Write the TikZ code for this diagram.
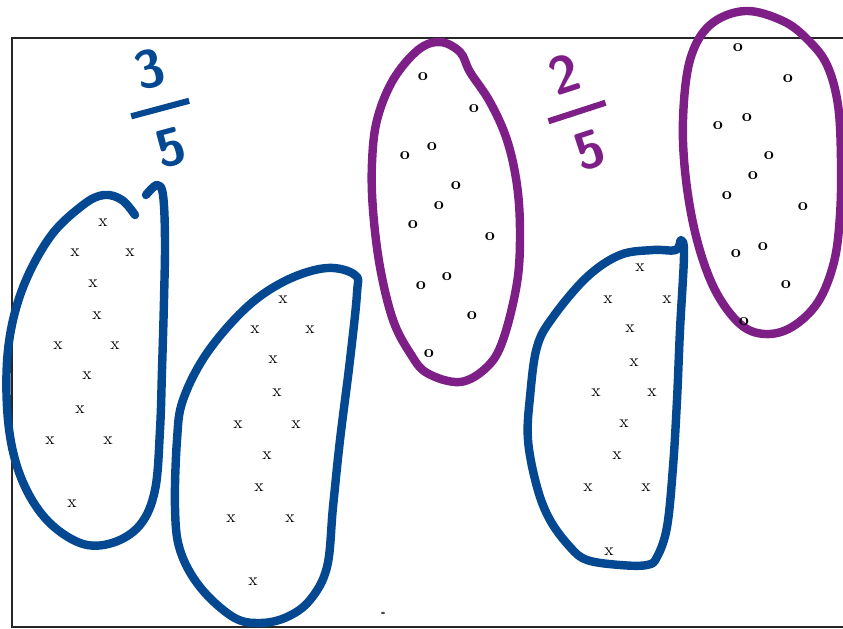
\documentclass[tikz,border=0pt]{standalone}
\usepackage{amsmath}
\usepackage{tikz}
\definecolor{inkblue}{RGB}{4,72,145}
\definecolor{inkpurple}{RGB}{126,31,136}

\begin{document}
\begin{tikzpicture}[x=0.02cm, y=-0.02cm,
  loop/.style={line width=4.8pt, line cap=round, line join=round},
  xmark/.style={font=\normalsize, inner sep=0pt},
  omark/.style={font=\normalsize\bfseries, inner sep=0pt},
  frac/.style={font=\fontsize{30}{30}\selectfont\sffamily\bfseries, inner sep=0pt}]
  \useasboundingbox (0,0) rectangle (843,629);
  \clip (0,0) rectangle (843,629);
  % Frame
  \draw[line width=1.7pt, black!85] (12,38) rectangle (870,627);
  \fill[black!70] (383,613) ellipse (2 and 1.2);
  % Blue loop 1
  \draw[loop, inkblue] plot[smooth, tension=0.6] coordinates {(135,215) (122,200) (104,195) (83,205) (50,237) (22,290) (8,350) (8,420) (20,475) (45,518) (80,543) (112,543) (140,525) (155,490) (160,430) (162,370) (164,300) (165,240) (163,195) (157,185) (146,195)};
  \foreach \p [count=\i] in {(103,223),(75,253),(130,253),(93,284),(97,316),(58,346),(115,346),(87,376),(80,410),(50,441),(108,441),(72,504)}
    \node[xmark] (a\i) at \p {x};
  % Blue loop 2
  \draw[loop, inkblue] plot[smooth cycle, tension=0.6] coordinates {(355,275) (327,268) (287,280) (247,307) (207,353) (183,400) (177,440) (175,507) (180,550) (200,587) (233,617) (260,623) (287,617) (310,600) (327,567) (333,507) (340,440) (350,360) (357,293)};
  \foreach \p [count=\i] in {(283,300),(255,330),(310,330),(273,360),(277,393),(238,425),(296,425),(267,456),(259,488),(231,519),(290,519),(253,582)}
    \node[xmark] (b\i) at \p {x};
  % Purple loop 1
  \draw[loop, inkpurple] plot[smooth cycle, tension=0.6] coordinates {(440,42) (418,50) (393,80) (377,120) (372,163) (373,210) (380,267) (393,320) (410,353) (427,373) (460,382) (487,367) (503,340) (517,283) (520,233) (517,185) (507,140) (490,102) (470,72) (460,52)};
  \foreach \p [count=\i] in {(423,77),(474,109),(432,147),(405,156),(456,186),(439,206),(413,225),(490,237),(447,277),(421,286),(472,316),(429,354)}
    \node[omark] (c\i) at \p {o};
  % Blue loop 3
  \draw[loop, inkblue] plot[smooth cycle, tension=0.6] coordinates {(681,240) (676,250) (653,250) (620,255) (587,277) (553,317) (537,347) (530,397) (528,440) (537,487) (550,520) (570,547) (587,560) (620,565) (647,565) (657,557) (667,527) (673,467) (677,400) (680,330) (684,255)};
  \foreach \p [count=\i] in {(640,268),(608,300),(667,300),(630,329),(634,363),(596,393),(652,393),(624,424),(617,456),(588,488),(646,488),(609,552)}
    \node[xmark] (d\i) at \p {x};
  % Purple loop 2
  \draw[loop, inkpurple] plot[smooth cycle, tension=0.6] coordinates {(745,11) (783,21) (808,40) (827,65) (838,105) (841,160) (840,215) (834,262) (818,302) (792,327) (765,334) (740,324) (715,290) (697,240) (686,180) (683,120) (690,60) (710,25)};
  \foreach \p [count=\i] in {(738,48),(788,79),(718,126),(747,118),(769,156),(753,176),(727,196),(803,207),(736,254),(763,247),(786,285),(744,322)}
    \node[omark] (e\i) at \p {o};
  % Fractions
  \node[frac, text=inkblue, rotate=15] (f1) at (160,108) {$\genfrac{}{}{3.5pt}{0}{\makebox[1.2cm]{\textbf{\textsf{3}}}}{\textbf{\textsf{5}}}$};
  \node[frac, text=inkpurple, rotate=18] (f2) at (577,112) {$\genfrac{}{}{3.5pt}{0}{\makebox[1.2cm]{\textbf{\textsf{2}}}}{\textbf{\textsf{5}}}$};
\end{tikzpicture}
\end{document}
